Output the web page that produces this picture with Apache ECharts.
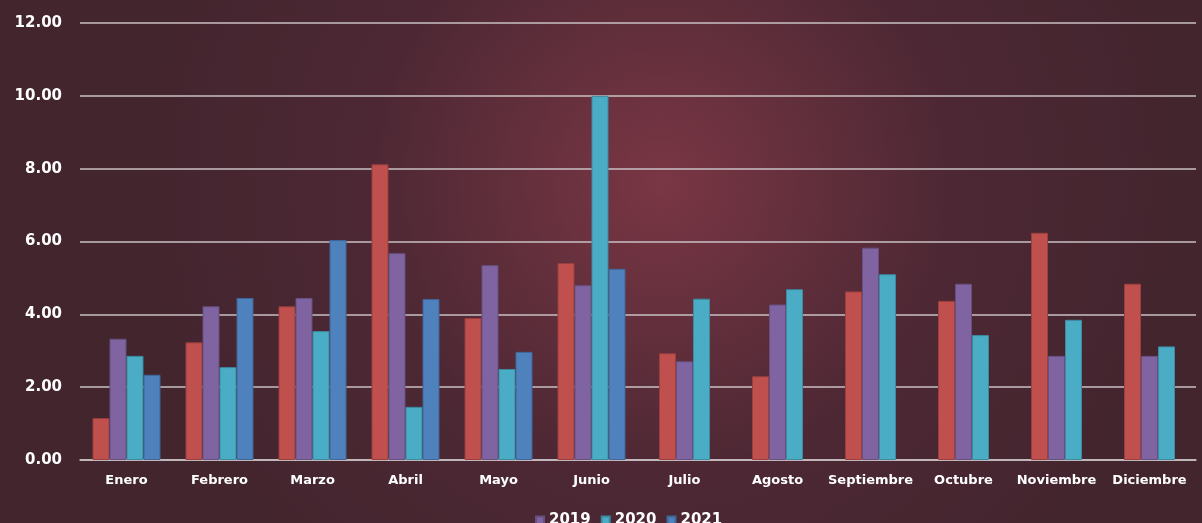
<!DOCTYPE html>
<html>
<head>
<meta charset="utf-8">
<script src="https://cdn.jsdelivr.net/npm/echarts@6/dist/echarts.min.js"></script>
<style>
html,body{margin:0;padding:0;background:#46262f;}
#c{width:1202px;height:523px;}
</style>
</head>
<body>
<div id="c"></div>
<script>
const categories = ['Enero','Febrero','Marzo','Abril','Mayo','Junio','Julio','Agosto','Septiembre','Octubre','Noviembre','Diciembre'];
const yTicks = [0, 2, 4, 6, 8, 10, 12];
const s2018 = [1.15, 3.23, 4.22, 8.12, 3.90, 5.41, 2.93, 2.30, 4.63, 4.37, 6.24, 4.84];
const s2019 = [3.33, 4.22, 4.45, 5.68, 5.35, 4.80, 2.71, 4.27, 5.83, 4.84, 2.86, 2.86];
const s2020 = [2.86, 2.55, 3.54, 1.46, 2.50, 10.00, 4.43, 4.69, 5.10, 3.43, 3.85, 3.12];
const s2021 = [2.34, 4.45, 6.04, 4.42, 2.97, 5.25, null, null, null, null, null, null];

const seriesDefs = [
  {name:'2018', data:s2018, color:'#C0504D', border:'#9a3f3e'},
  {name:'2019', data:s2019, color:'#8064A2', border:'#65507f'},
  {name:'2020', data:s2020, color:'#4BACC6', border:'#3b8aa0'},
  {name:'2021', data:s2021, color:'#4F81BD', border:'#3f6797'}
];

// months where 4 series are present use axis 0; others (3 series) use axis 1 so bars stay centered
function hasAll(i){ return s2021[i] !== null; }
const series = [];
seriesDefs.forEach(d => {
  series.push({
    name:d.name, type:'bar', xAxisIndex:0, barWidth:17, barGap:'0%',
    data:d.data.map((v,i)=> hasAll(i) ? v : null),
    itemStyle:{color:d.color, borderColor:d.border, borderWidth:1},
    silent:true
  });
});
seriesDefs.filter(d => d.name !== '2021').forEach(d => {
  series.push({
    name:d.name, type:'bar', xAxisIndex:1, barWidth:17, barGap:'0%',
    data:d.data.map((v,i)=> hasAll(i) ? null : v),
    itemStyle:{color:d.color, borderColor:d.border, borderWidth:1},
    silent:true
  });
});

const chart = echarts.init(document.getElementById('c'));
chart.setOption({
  animation:false,
  backgroundColor:{type:'radial', x:0.55, y:0.35, r:1.0, colorStops:[{offset:0,color:'#7a3644'},{offset:0.55,color:'#4d2834'},{offset:1,color:'#43252e'}]},
  grid:{left:80, right:6, top:23, bottom:63, containLabel:false},
  legend:{
    data:['2019','2020','2021'], top:508, left:530,
    icon:'rect', itemWidth:8, itemHeight:8, itemGap:10,
    textStyle:{color:'#ffffff', fontFamily:'DejaVu Sans', fontWeight:'bold', fontSize:15}
  },
  xAxis:[{
    type:'category', data:categories, boundaryGap:true,
    axisLine:{lineStyle:{color:'#c9c1c5', width:1.5}},
    axisTick:{show:false},
    axisLabel:{color:'#ffffff', fontFamily:'DejaVu Sans', fontWeight:'bold', fontSize:13, margin:14, interval:0}
  },{
    type:'category', data:categories, boundaryGap:true, show:false
  }],
  yAxis:{
    type:'value', min:yTicks[0], max:yTicks[yTicks.length-1], interval:yTicks[1]-yTicks[0],
    axisLine:{show:false}, axisTick:{show:false},
    splitLine:{lineStyle:{color:'#c9c1c5', width:1.5}},
    axisLabel:{color:'#ffffff', fontFamily:'DejaVu Sans', fontWeight:'bold', fontSize:15, margin:18, formatter:v=>v.toFixed(2)}
  },
  series:series
});
</script>
</body>
</html>
